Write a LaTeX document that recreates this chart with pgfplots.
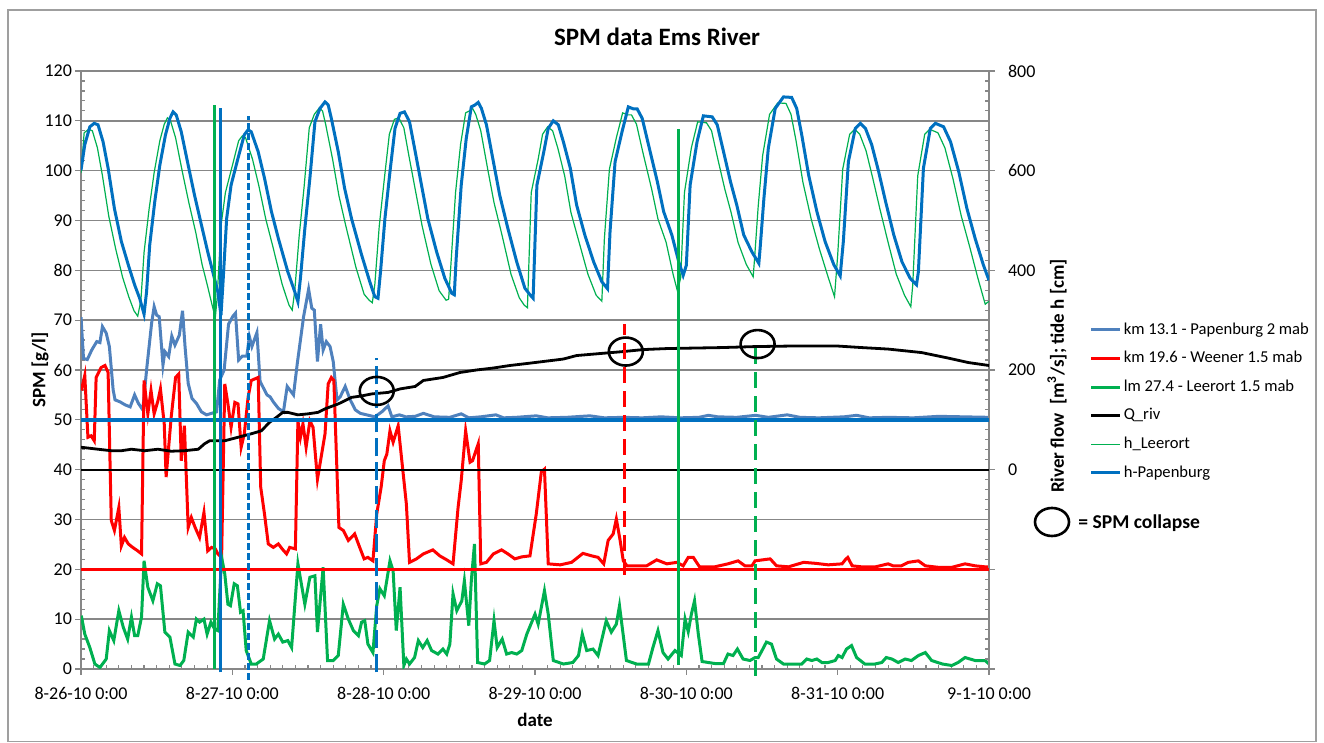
\documentclass[border=0pt]{standalone}
\usepackage{fontspec}
\setmainfont{Carlito}
\usepackage{pgfplots}
\pgfplotsset{compat=1.18}
\usepackage{pgfplotstable}
\definecolor{papspm}{HTML}{4F81BD}
\definecolor{wee}{HTML}{FF0000}
\definecolor{leer}{HTML}{00B050}
\definecolor{hpap}{HTML}{0070C0}
\definecolor{gridc}{HTML}{878787}
\pgfdeclareplotmark{collapse}{%
  \pgfpathellipse{\pgfpointorigin}{\pgfqpoint{8.5pt}{0pt}}{\pgfqpoint{0pt}{7pt}}%
  \pgfusepathqstroke}

% SPM Papenburg km 13.1 (hours since 8-26-10 0:00, g/l)
\pgfplotstableread{
h v
0 70.6
0.4 62.3
1.0 62.1
1.7 64.0
2.5 65.7
3.0 65.5
3.4 68.7
4.0 67.4
4.5 64.7
5.1 56.0
5.4 54.0
6.2 53.6
7.0 53.0
7.8 52.6
8.5 55.0
9.1 53.3
9.8 52.0
10.4 60.0
11.2 69.4
11.6 72.7
12.0 71.0
12.4 70.7
13.0 61.0
13.3 63.7
13.9 62.7
14.4 66.8
14.9 65.0
15.6 67.0
16.1 71.9
16.5 64.7
17.0 57.3
17.6 54.3
18.3 53.3
19.1 51.6
19.9 51.0
20.7 51.3
21.5 51.6
22.0 58.0
22.7 60.0
23.4 69.2
24.1 70.8
24.5 71.4
25.0 62.0
25.6 62.8
26.3 62.8
26.7 66.7
27.1 64.7
27.9 67.5
28.4 57.7
29.5 55.0
30.0 54.6
30.5 53.6
31.3 52.3
32.1 51.6
32.7 56.7
33.7 55.0
34.3 61.3
35.3 70.7
36.1 76.2
36.6 72.4
37.0 72.0
37.5 61.7
38.0 69.2
38.4 64.0
38.9 65.7
39.5 64.7
40.0 61.7
40.6 54.0
41.1 54.6
41.9 56.7
42.7 54.0
43.5 52.0
44.3 51.3
45.3 51.0
46.6 50.6
47.7 51.6
48.7 52.8
49.3 50.6
50.5 51.0
51.5 50.6
53.0 50.7
54.3 51.3
56.0 50.6
58.5 50.5
60.3 51.2
61.5 50.4
63.4 50.6
65.8 51.0
67.0 50.4
69.0 50.5
72.2 50.8
74.0 50.4
77.0 50.5
80.7 50.8
83.0 50.4
86.0 50.5
89.0 50.4
92.0 50.6
95.0 50.4
98.0 50.5
99.5 50.9
101.0 50.6
104.0 50.5
107.0 50.9
109.0 50.5
112.0 51.0
114.0 50.5
117.0 50.4
121.0 50.6
123.0 50.9
125.0 50.4
128.0 50.5
132.0 50.4
136.0 50.7
140.0 50.6
144.0 50.5
}\tblpap

% SPM Weener km 19.6
\pgfplotstableread{
h v
0.05 55.9
0.6 58.9
1.1 46.5
1.6 46.8
2.1 45.8
2.4 58.5
3.2 60.5
3.8 60.9
4.3 59.5
4.8 29.8
5.3 27.8
6.0 32.4
6.4 24.7
6.9 26.4
7.5 25.1
8.2 24.4
9.0 23.7
9.6 23.1
10.0 57.9
10.6 51.2
11.1 55.9
11.6 51.2
12.2 53.8
12.6 56.2
13.2 49.2
13.5 38.5
14.3 50.5
15.0 58.5
15.5 59.2
15.9 41.8
16.4 48.8
17.0 28.4
17.5 30.4
18.1 28.4
18.8 26.4
19.5 31.4
20.1 23.7
20.7 24.4
21.3 24.1
21.7 23.1
22.3 22.4
22.8 57.2
23.3 53.2
23.8 48.5
24.4 53.5
24.9 53.2
25.4 44.5
25.9 47.2
26.5 54.5
27.0 57.9
28.1 58.5
28.5 36.5
29.1 31.1
29.7 25.1
30.5 24.4
31.3 25.1
31.9 24.1
32.6 23.1
33.1 24.4
34.0 24.1
34.4 49.8
34.8 46.5
35.2 49.2
35.7 44.5
36.3 49.8
36.8 48.5
37.5 38.1
38.7 47.2
39.2 57.2
39.7 58.5
40.1 57.9
40.9 28.4
41.6 27.8
42.4 25.8
43.4 27.1
44.2 24.4
44.9 22.1
45.5 22.4
46.3 21.7
46.9 31.1
47.6 36.5
48.1 41.8
48.5 43.1
49.0 47.8
49.5 45.5
50.3 48.8
51.6 33.1
52.1 21.4
53.2 22.1
54.3 23.1
55.8 23.9
56.9 22.7
58.0 21.9
59.0 21.1
59.8 32.4
60.3 37.8
61.0 47.8
61.7 41.5
62.1 41.8
63.0 45.2
63.4 21.1
64.3 21.4
65.4 23.1
66.7 23.9
67.7 23.1
68.8 22.1
69.9 22.5
71.2 22.7
72.2 31.1
73.0 39.5
73.5 40.1
74.1 21.1
76.0 20.9
77.8 21.4
79.6 23.2
81.0 22.7
82.0 22.4
82.9 21.1
83.6 25.8
84.4 27.1
84.9 30.1
85.5 25.8
86.0 21.7
86.6 20.7
88.1 20.7
89.7 20.7
91.3 21.9
92.9 21.1
94.5 21.4
95.5 20.7
96.3 22.4
97.1 22.4
98.1 20.5
100.5 20.5
102.6 21.1
104.2 21.7
105.3 20.7
106.4 20.7
106.9 21.7
109.3 22.1
110.3 20.7
112.2 20.5
114.6 21.4
116.5 21.2
118.5 20.9
120.7 21.1
121.2 21.9
121.6 22.4
122.3 20.7
123.8 20.5
126.0 20.5
128.0 21.1
128.8 20.7
130.1 20.7
131.2 21.4
132.8 21.7
133.9 20.7
136.0 20.4
138.1 20.4
140.2 21.1
141.8 20.7
143.4 20.5
144.0 20.5
}\tblwee

% SPM Leerort km 27.4
\pgfplotstableread{
h v
0.05 10.7
0.6 7.0
1.4 4.3
2.2 1.0
3.0 0.3
4.0 2.0
4.5 7.7
5.2 5.7
6.0 11.7
6.7 8.4
7.4 6.0
8.0 10.4
8.5 6.7
9.0 6.7
9.6 10.4
10.0 21.7
10.6 16.4
11.4 13.7
12.1 17.1
12.6 16.7
13.3 7.4
14.1 6.4
14.9 1.0
15.7 0.7
16.3 1.7
17.0 7.4
17.8 6.4
18.3 10.0
18.8 9.4
19.5 10.0
20.0 7.0
20.6 9.4
21.2 8.0
21.7 7.7
22.3 22.4
22.8 19.1
23.3 13.0
23.7 12.7
24.3 17.1
24.8 16.7
25.3 11.4
25.7 11.7
26.2 3.7
27.0 1.0
27.8 1.0
28.9 2.0
29.9 9.7
30.7 6.0
31.3 7.0
32.0 5.4
32.8 5.7
33.4 4.3
34.4 21.1
35.5 13.0
36.3 18.4
37.1 18.7
37.5 7.4
38.4 20.4
39.1 1.7
40.0 1.7
40.8 2.7
41.6 13.0
42.4 10.0
43.2 7.7
44.0 6.7
44.5 9.4
45.0 9.7
45.5 5.0
46.3 3.3
46.9 12.7
47.4 16.1
48.1 14.7
49.0 21.7
49.5 19.7
50.0 7.7
50.6 16.4
51.2 0.7
51.6 2.0
52.1 1.0
52.9 2.3
53.5 5.7
54.2 4.3
54.9 5.7
55.6 3.7
56.6 3.0
57.4 4.0
58.0 3.0
58.5 5.0
59.0 15.1
59.6 11.7
60.4 13.7
60.8 17.7
61.5 8.7
61.9 17.7
62.4 25.1
62.9 1.3
64.0 1.0
64.8 1.7
65.5 9.7
66.0 4.3
66.8 6.0
67.5 3.0
68.3 3.3
69.1 3.0
69.9 3.7
70.7 7.0
72.0 11.0
72.5 9.0
73.5 15.7
74.1 11.0
74.9 1.7
76.5 1.0
78.0 1.3
78.9 2.7
79.5 7.0
80.2 3.7
81.2 4.0
82.0 2.7
83.3 9.7
84.1 7.4
84.9 9.0
85.4 12.7
86.5 1.7
88.1 1.0
90.0 1.0
90.7 4.3
91.5 7.7
92.3 3.3
93.1 2.0
94.2 3.7
95.2 2.7
95.8 10.0
96.3 7.5
96.8 11.0
97.3 13.7
97.9 7.0
98.5 1.5
100.5 1.1
101.9 1.1
102.6 3.0
103.4 2.7
104.1 4.0
105.0 2.0
106.1 1.7
106.9 2.3
107.4 2.3
108.0 3.7
108.7 5.4
109.5 5.0
110.3 2.0
111.4 1.0
112.7 1.0
114.3 1.0
115.1 2.0
115.9 1.7
116.7 2.0
117.5 1.3
118.5 1.3
119.6 1.7
120.1 2.7
120.7 2.3
121.4 4.0
122.2 4.7
123.0 2.3
124.3 1.0
125.9 1.0
127.0 1.3
127.7 2.3
128.6 2.0
129.6 1.3
130.7 2.0
131.7 1.7
132.8 2.7
133.9 3.3
134.9 1.7
136.6 1.0
138.1 0.7
139.1 1.3
140.2 2.3
141.8 1.7
143.4 1.7
144.0 1.0
}\tblleer

% River flow Q (m3/s)
\pgfplotstableread{
h v
0 45
2.7 41
4.8 38
6.4 38
8.0 41
10.1 38
12.2 41
14.3 37
16.4 38
18.6 41
19.6 52
20.4 58
22.8 58
24.9 65
27.0 72
28.6 78
29.9 95
31.0 105
32.0 115
32.8 115
34.4 110
36.0 112
37.6 115
38.7 122
40.8 132
41.8 138
42.9 145
44.5 148
46.1 152
48.7 155
50.6 162
53.0 167
54.3 179
57.4 185
60.1 195
62.7 200
65.4 204
68.0 209
70.7 213
73.3 217
76.5 222
78.6 229
82.3 233
86.0 237
89.2 241
92.9 243
97.1 244
101.6 245
106.9 247
112.2 248
120.1 248
123.8 245
128.0 242
133.3 235
137.5 224
140.7 215
144.0 209
}\tblq

% tide h Papenburg (cm)
\pgfplotstableread{
h v
0.0 601
0.6 652
1.4 688
2.1 695
2.7 692
3.5 658
4.3 605
5.3 524
6.4 458
7.5 411
8.5 371
9.3 344
10.0 312
10.4 357
10.9 451
11.7 538
12.5 611
13.4 672
14.1 705
14.6 718
15.1 712
15.9 678
17.0 611
18.0 551
19.1 491
20.1 437
20.9 397
21.7 357
22.2 310
22.5 371
23.1 504
23.8 571
24.9 625
25.9 672
26.5 682
27.0 678
28.1 638
29.1 585
30.2 518
31.3 464
32.8 397
33.9 357
34.4 337
34.8 384
35.5 484
36.3 585
37.1 698
37.9 725
38.7 738
39.2 732
39.7 705
40.8 638
41.8 565
42.9 504
44.5 431
45.8 377
46.6 347
47.1 344
47.5 397
48.2 504
49.0 598
49.8 685
50.6 715
51.3 718
52.1 698
52.9 645
54.0 571
55.0 504
56.4 437
57.7 384
58.8 354
59.2 351
59.5 424
60.3 571
61.1 665
61.9 728
62.5 732
63.0 737
63.5 725
64.3 692
65.4 618
66.4 551
67.7 484
69.1 417
70.4 364
71.2 351
71.7 344
72.3 571
73.4 638
74.1 685
74.9 700
75.7 692
76.5 658
77.6 605
78.6 531
79.9 471
81.3 417
82.6 377
83.5 363
83.9 478
84.7 618
85.8 678
86.8 728
87.6 724
88.2 724
89.0 705
90.0 652
91.4 578
92.4 518
93.7 471
94.8 417
95.5 390
96.0 410
96.6 571
97.7 658
98.7 710
100.1 708
100.9 692
101.9 638
103.0 578
104.0 531
105.1 471
106.4 437
107.5 414
107.7 444
108.3 544
109.0 645
110.1 725
111.4 748
112.7 747
113.5 725
114.3 672
115.4 591
116.7 518
118.0 458
119.4 411
120.4 389
120.9 458
121.7 618
122.8 685
123.6 695
124.4 685
125.4 652
126.5 598
127.6 538
128.9 471
130.2 417
131.5 384
132.5 371
132.8 397
133.6 605
134.7 685
135.5 695
136.8 688
137.9 658
139.2 598
140.5 524
141.8 464
143.1 411
144.0 380
}\tblhpap

% tide h Leerort (cm)
\pgfplotstableread{
h v
0.0 595
0.5 676
1.2 683
1.8 680
2.6 646
3.4 590
4.4 509
5.5 443
6.6 386
7.6 346
8.4 319
9.0 308
9.5 340
10.0 436
10.8 523
11.6 596
12.5 660
13.2 693
13.7 706
14.2 700
15.0 666
16.1 596
17.1 536
18.2 476
19.2 412
20.0 372
20.8 330
21.3 305
21.6 346
22.2 489
22.9 556
24.0 610
25.0 660
25.6 670
26.1 666
27.2 623
28.2 570
29.3 503
30.4 449
31.9 372
33.0 330
33.5 320
33.9 359
34.6 469
35.4 570
36.2 686
37.0 713
37.8 726
38.3 720
38.8 693
39.9 623
40.9 550
42.0 489
43.6 406
44.9 352
45.7 340
46.2 335
46.6 372
47.3 489
48.1 583
48.9 673
49.7 703
50.4 706
51.2 686
52.0 630
53.1 556
54.1 489
55.5 412
56.8 359
57.9 340
58.3 342
58.6 399
59.4 556
60.2 653
61.0 716
61.6 720
62.1 725
62.6 713
63.4 680
64.5 603
65.5 536
66.8 469
68.2 392
69.5 345
70.3 330
70.8 325
71.4 556
72.5 623
73.2 673
74.0 688
74.8 680
75.6 646
76.7 590
77.7 516
79.0 456
80.4 392
81.7 350
82.6 338
83.0 463
83.8 603
84.9 666
85.9 716
86.7 712
87.3 712
88.1 693
89.1 637
90.5 563
91.5 503
92.8 456
93.9 392
94.6 358
95.1 385
95.7 556
96.8 646
97.8 698
99.2 696
100.0 680
101.0 623
102.1 563
103.1 516
104.2 456
105.5 412
106.6 387
106.8 420
107.4 529
108.1 630
109.2 713
110.5 736
111.8 735
112.6 713
113.4 660
114.5 576
115.8 503
117.1 443
118.5 386
119.5 347
120.0 430
120.8 603
121.9 673
122.7 683
123.5 673
124.5 640
125.6 583
126.7 523
128.0 456
129.3 392
130.6 350
131.6 327
131.9 370
132.7 590
133.8 673
134.6 683
135.9 676
137.0 646
138.3 583
139.6 509
140.9 449
142.2 386
143.4 332
144.0 338
}\tblhleer

\pgfplotsset{
  basestyle/.style={scale only axis, width=454pt, height=299pt,
    xmin=0, xmax=144, at={(40.5pt,37pt)}, anchor=south west},
}

\begin{document}
\begin{tikzpicture}
\path[use as bounding box] (0pt,0pt) rectangle (662pt,371.5pt);
\draw[gridc!80, line width=0.6pt] (4pt,0.6pt) rectangle (658pt,366.5pt);

% primary axis: SPM
\begin{axis}[basestyle, ymin=0, ymax=120,
  axis x line*=bottom, axis y line*=left,
  axis line style={-, gridc, line width=0.7pt},
  xtick={0,24,...,144},
  xticklabels={8-26-10 0:00,8-27-10 0:00,8-28-10 0:00,8-29-10 0:00,8-30-10 0:00,8-31-10 0:00,9-1-10 0:00},
  minor x tick num=11,
  ytick={0,10,...,120}, minor y tick num=4,
  tick align=inside, major tick length=-3pt, minor tick length=2pt,
  tick style={gridc, line width=0.6pt},
  ymajorgrids, major grid style={gridc, line width=0.7pt},
  ticklabel style={font=\fontsize{9}{11}\selectfont},
  /pgf/number format/assume math mode=true,
  yticklabel style={xshift=-1pt},
  xticklabel style={yshift=-5.8pt},
]
\addplot[papspm, line width=1.5pt] table[x=h,y=v] {\tblpap};
\addplot[wee, line width=1.5pt] table[x=h,y=v] {\tblwee};
\addplot[leer, line width=1.5pt] table[x=h,y=v] {\tblleer};
\end{axis}

% secondary axis: river flow and tide
\begin{axis}[basestyle, ymin=-400, ymax=800,
  axis x line=none, axis y line*=right,
  axis line style={-, gridc, line width=0.7pt},
  ytick={-400,-200,...,800}, yticklabels={,,0,200,400,600,800},
  minor y tick num=9,
  tick align=inside, major tick length=-3pt, minor tick length=2pt,
  tick style={gridc, line width=0.6pt},
  yticklabel style={font=\fontsize{9}{11}\selectfont, xshift=6pt},
  legend style={at={(1.111,0.580)}, anchor=north west, draw=none, fill=none,
    font=\fontsize{8.3}{10}\selectfont, row sep=6.6pt, inner sep=0pt, outer sep=0pt,
    nodes={inner sep=0pt, text height=6pt, text depth=1.7pt},
    /tikz/every odd column/.append style={column sep=1pt}},
  legend cell align=left,
  legend image code/.code={\draw[#1] (0pt,0pt) -- (14.5pt,0pt);},
]
\addlegendimage{papspm, line width=1.5pt}
\addlegendentry{km 13.1 - Papenburg 2 mab}
\addlegendimage{wee, line width=1.5pt}
\addlegendentry{km 19.6 - Weener 1.5 mab}
\addlegendimage{leer, line width=1.5pt}
\addlegendentry{lm 27.4 - Leerort 1.5 mab}
\addplot[black, line width=1.4pt] table[x=h,y=v] {\tblq};
\addlegendentry{Q\_riv}
\addplot[leer, line width=0.6pt] table[x=h,y=v] {\tblhleer};
\addlegendentry{h\_Leerort}
\addplot[hpap, line width=1.5pt] table[x=h,y=v] {\tblhpap};
\addlegendentry{h-Papenburg}
\end{axis}

% overlay: reference lines, markers of SPM collapse
\begin{axis}[basestyle, ymin=0, ymax=120, hide axis, clip=false]
\addplot[hpap, line width=1.7pt] coordinates {(0,50) (144,50)};
\addplot[black, line width=1pt] coordinates {(0,40) (144,40)};
\addplot[wee, line width=1.7pt] coordinates {(0,20) (144,20)};
\addplot[leer, line width=1.5pt] coordinates {(21.15,0) (21.15,113.2)};
\addplot[hpap, line width=1.5pt] coordinates {(22.2,-0.7) (22.2,112.6)};
\addplot[hpap, line width=1.5pt, dash pattern=on 3.5pt off 1.5pt] coordinates {(26.5,-2.2) (26.5,111)};
\addplot[hpap, line width=1.5pt, dash pattern=on 9pt off 3pt] coordinates {(46.9,-0.7) (46.9,62.5)};
\addplot[wee, line width=1.5pt, dash pattern=on 8pt off 4pt] coordinates {(86.2,18.9) (86.2,69.2)};
\addplot[leer, line width=1.5pt] coordinates {(94.7,0.8) (94.7,108.4)};
\addplot[leer, line width=1.5pt, dash pattern=on 8pt off 4pt] coordinates {(107.0,-1.4) (107.0,65.5)};
\addplot[black, only marks, mark=collapse, mark options={line width=1.3pt}] coordinates {(46.9,55.8) (86.4,63.7) (107.3,65.2)};
\end{axis}

% texts
\node[font=\fontsize{12.5}{14}\selectfont\bfseries, anchor=base] at (328.5pt,348.6pt) {SPM data Ems River};
\node[font=\fontsize{9.5}{11}\selectfont\bfseries, rotate=90] at (20pt,186.5pt) {SPM [g/l]};
\node[font=\fontsize{9.5}{11}\selectfont\bfseries, rotate=90] at (528.5pt,183.5pt) {River flow\ \ [m\textsuperscript{3}/s]; tide h [cm]};
\node[font=\fontsize{9.5}{11}\selectfont\bfseries] at (267.5pt,11.5pt) {date};
\draw[black, line width=1.3pt] (526pt,110.5pt) ellipse (8.5pt and 7pt);
\node[font=\fontsize{9.8}{11}\selectfont\bfseries, anchor=base west, inner sep=0pt] at (539pt,107.4pt) {= SPM collapse};
\end{tikzpicture}
\end{document}
